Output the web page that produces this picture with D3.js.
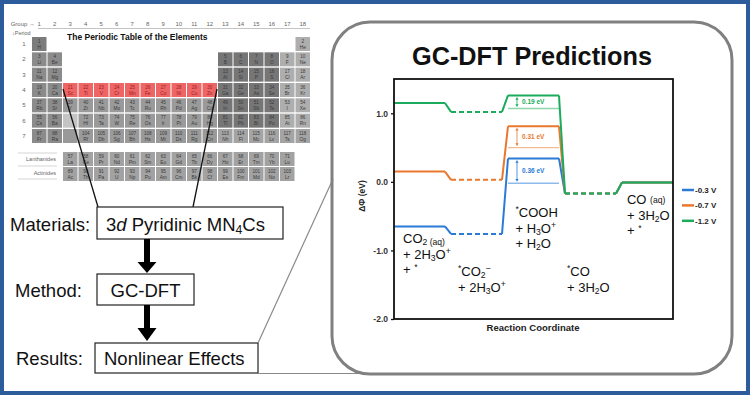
<!DOCTYPE html>
<html>
<head>
<meta charset="utf-8">
<script src="https://cdn.jsdelivr.net/npm/d3@7"></script>
<style>
body { margin: 0; background: #fff; }
svg { display: block; font-family: "Liberation Sans", Arial, sans-serif; }
text { white-space: pre; }
</style>
</head>
<body>
<div id="chart"></div>
<script>
// ---- data ----
const elements = ("H He Li Be B C N O F Ne Na Mg Al Si P S Cl Ar K Ca Sc Ti V Cr Mn Fe Co Ni Cu Zn " +
  "Ga Ge As Se Br Kr Rb Sr Y Zr Nb Mo Tc Ru Rh Pd Ag Cd In Sn Sb Te I Xe Cs Ba La Ce Pr Nd Pm Sm " +
  "Eu Gd Tb Dy Ho Er Tm Yb Lu Hf Ta W Re Os Ir Pt Au Hg Tl Pb Bi Po At Rn Fr Ra Ac Th Pa U Np Pu " +
  "Am Cm Bk Cf Es Fm Md No Lr Rf Db Sg Bh Hs Mt Ds Rg Cn Nh Fl Mc Lv Ts Og").split(" ");
const highlighted = d3.range(21, 31);          // 3d metals Sc..Zn
const groupNums = d3.range(1, 19);
const periodNums = d3.range(1, 8);

const potentials = ["-0.3 V", "-0.7 V", "-1.2 V"];
const dphiM03 = [-0.65, -0.76, 0.34, -0.17, -0.01];
const dphiM07 = [0.15, 0.03, 0.81, -0.17, -0.01];
const dphiM12 = [1.15, 1.02, 1.26, -0.17, -0.01];
const coohRef = [-0.02, 0.50, 1.07];          // lower mark of the COOH gap
const gapLabels = ["0.36 eV", "0.31 eV", "0.19 eV"];
const dashedStates = [1, 3];
const yTicks = [1.0, 0.0, -1.0, -2.0];

const colors = ["#2a7bd5", "#e9782f", "#1bab5c"];
const lightColors = ["#8dbbec", "#f5bb90", "#8ed6ac"];

const W = 750, H = 395;
const svg = d3.select("#chart").append("svg")
  .attr("width", W).attr("height", H);

// outer blue frame
svg.append("rect")
  .attr("x", 2).attr("y", 2).attr("width", W - 4).attr("height", H - 4)
  .attr("fill", "#fff").attr("stroke", "#2d5c9c").attr("stroke-width", 4);

// helper for text with sub/sup/italic parts
function rich(sel, x, y, parts, size, weight) {
  const t = sel.append("text").attr("x", x).attr("y", y)
    .attr("font-size", size).attr("font-weight", weight || "normal").attr("fill", "#111");
  let shift = 0;
  parts.forEach(p => {
    const kind = typeof p === "string" ? "n" : p[0];
    const str = typeof p === "string" ? p : p[1];
    let target = 0;
    if (kind === "sub") target = size * 0.15;
    if (kind === "sup") target = -size * 0.35;
    if (kind === "sm") target = -size * 0.1;
    const ts = t.append("tspan").text(str).attr("dy", target - shift);
    if (kind === "sub" || kind === "sup" || kind === "sm") ts.attr("font-size", size * 0.66);
    if (kind === "it") ts.attr("font-style", "italic");
    shift = target;
  });
  return t;
}

// ---- periodic table ----
function placeOf(z) {
  if (z === 1) return [1, 1];
  if (z === 2) return [1, 18];
  if (z <= 4) return [2, z - 2];
  if (z <= 10) return [2, z + 8];
  if (z <= 12) return [3, z - 10];
  if (z <= 18) return [3, z];
  if (z <= 36) return [4, z - 18];
  if (z <= 54) return [5, z - 36];
  if (z <= 56) return [6, z - 54];
  if (z <= 71) return [8, z - 54];
  if (z <= 86) return [6, z - 68];
  if (z <= 88) return [7, z - 86];
  if (z <= 103) return [9, z - 86];
  return [7, z - 100];
}
const cells = elements.map((sym, i) => {
  const p = placeOf(i + 1);
  return { z: i + 1, sym: sym, row: p[0], col: p[1] };
});

const cx = d3.scaleLinear().domain([1, 18]).range([32, 32 + 17 * 15.5]);
const ry = d3.scaleLinear().domain([1, 7]).range([37, 129]);
const cw = 14.5, ch = 14;
const rowTop = r => r <= 7 ? ry(r) : (r === 8 ? 152 : 167);

function cellFill(d) {
  if (highlighted.includes(d.z)) return "#ee6565";
  if (d.row >= 8) return "#a2a2a2";
  if (d.z === 1) return "#7c7c7c";
  if (d.col <= 2) return "#8b8b8b";
  if (d.col <= 12) return "#9a9a9a";
  if (d.row === 7) return "#a4a4a4";
  if (d.col >= 17) return "#aeaeae";
  return "#767676";
}

const pt = svg.append("g");

// header
pt.append("text").attr("x", 35).attr("y", 26).attr("text-anchor", "end")
  .attr("font-size", 6).attr("fill", "#666").text("Group \u2192");
pt.selectAll(".gnum").data(groupNums).join("text")
  .attr("class", "gnum")
  .attr("x", d => cx(d) + cw / 2).attr("y", 26)
  .attr("text-anchor", "middle").attr("font-size", 6).attr("fill", "#666")
  .text(d => d);
pt.append("line").attr("x1", 38).attr("x2", 310).attr("y1", 28.5).attr("y2", 28.5)
  .attr("stroke", "#aaa").attr("stroke-width", 0.7);
pt.append("text").attr("x", 12).attr("y", 34.5).attr("font-size", 5.5).attr("fill", "#666")
  .text("\u2193Period");
pt.selectAll(".pnum").data(periodNums).join("text")
  .attr("class", "pnum")
  .attr("x", 24).attr("y", d => ry(d) + ch / 2 + 2)
  .attr("text-anchor", "middle").attr("font-size", 6).attr("fill", "#666")
  .text(d => d);

pt.append("text").attr("x", 67).attr("y", 40)
  .attr("font-size", 8.5).attr("font-weight", "bold").attr("fill", "#111")
  .text("The Periodic Table of the Elements");

// placeholder cells for La / Ac slots
pt.append("rect").attr("x", cx(3)).attr("y", ry(6)).attr("width", cw).attr("height", ch).attr("fill", "#c4c4c4");
pt.append("rect").attr("x", cx(3)).attr("y", ry(7)).attr("width", cw).attr("height", ch).attr("fill", "#999");

const cellG = pt.selectAll(".cell").data(cells).join("g")
  .attr("class", "cell")
  .attr("transform", d => `translate(${cx(d.col)},${rowTop(d.row)})`);
cellG.append("rect")
  .attr("width", cw).attr("height", ch)
  .attr("fill", cellFill);
cellG.append("text")
  .attr("x", cw / 2).attr("y", 5.5).attr("text-anchor", "middle")
  .attr("font-size", 4.6)
  .attr("fill", d => highlighted.includes(d.z) ? "#9a1d1d" : "#3a3a3a")
  .text(d => d.z);
cellG.append("text")
  .attr("x", cw / 2).attr("y", 11.5).attr("text-anchor", "middle")
  .attr("font-size", 4.8)
  .attr("fill", d => highlighted.includes(d.z) ? "#9a1d1d" : "#3a3a3a")
  .text(d => d.sym);

// lanthanide / actinide labels
[["Lanthanides", 161], ["Actinides", 175]].forEach(l => {
  pt.append("text").attr("x", 56).attr("y", l[1]).attr("text-anchor", "end")
    .attr("font-size", 5.5).attr("fill", "#666").text(l[0]);
});
[153, 166, 179].forEach(yy => {
  pt.append("line").attr("x1", 18).attr("x2", 57).attr("y1", yy).attr("y2", yy)
    .attr("stroke", "#bbb").attr("stroke-width", 0.6);
});

// ---- flow chart ----
const flow = svg.append("g");
// zoom lines from periodic table to materials box
flow.append("line").attr("x1", 63).attr("y1", 89).attr("x2", 98).attr("y2", 207)
  .attr("stroke", "#111").attr("stroke-width", 1.3);
flow.append("line").attr("x1", 217).attr("y1", 89).attr("x2", 193).attr("y2", 207)
  .attr("stroke", "#111").attr("stroke-width", 1.3);

const boxes = [
  { x: 97, y: 207, w: 186, h: 32 },
  { x: 97, y: 274, w: 97, h: 31 },
  { x: 95, y: 343, w: 163, h: 30 }
];
flow.selectAll(".box").data(boxes).join("rect")
  .attr("class", "box")
  .attr("x", d => d.x).attr("y", d => d.y).attr("width", d => d.w).attr("height", d => d.h)
  .attr("fill", "#fff").attr("stroke", "#222").attr("stroke-width", 1.2);

const fs = 18.5;
rich(flow, 10, 231, ["Materials:"], fs);
rich(flow, 106, 231, ["3", ["it", "d"], " Pyridinic MN", ["sub", "4"], "Cs"], fs);
rich(flow, 15, 297, ["Method:"], fs);
flow.append("text").attr("x", 145.5).attr("y", 297).attr("text-anchor", "middle")
  .attr("font-size", fs).attr("fill", "#111").text("GC-DFT");
rich(flow, 16, 365, ["Results:"], fs);
rich(flow, 104, 365, ["Nonlinear Effects"], fs);

// down arrows
[[239, 262, 273], [305, 328, 341]].forEach(a => {
  flow.append("rect").attr("x", 144).attr("y", a[0]).attr("width", 6).attr("height", a[1] - a[0] + 1)
    .attr("fill", "#000");
  flow.append("path").attr("d", `M137.5,${a[1]} L156.5,${a[1]} L147,${a[2]} Z`).attr("fill", "#000");
});

// gray connector lines to the chart panel
flow.append("line").attr("x1", 258).attr("y1", 343).attr("x2", 333).attr("y2", 179)
  .attr("stroke", "#8a8a8a").attr("stroke-width", 1.2);
flow.append("line").attr("x1", 258).attr("y1", 373.5).attr("x2", 372).attr("y2", 373.5)
  .attr("stroke", "#8a8a8a").attr("stroke-width", 1.2);

// ---- chart panel ----
svg.append("rect")
  .attr("x", 332).attr("y", 22).attr("width", 400).attr("height", 352).attr("rx", 38)
  .attr("fill", "none").attr("stroke", "#808080").attr("stroke-width", 3);

svg.append("text").attr("x", 532).attr("y", 65).attr("text-anchor", "middle")
  .attr("font-size", 26.5).attr("font-weight", "bold").attr("fill", "#111")
  .attr("textLength", 240).attr("lengthAdjust", "spacingAndGlyphs")
  .text("GC-DFT Predictions");

const plot = { left: 394, right: 673, top: 79, bottom: 319 };
const FLAT = 0.895;   // flat part of each state in reaction-coordinate units
const x = d3.scaleLinear().domain([0, 4 + FLAT]).range([plot.left, plot.right]);
const y = d3.scaleLinear().domain([-2, 1.5]).range([plot.bottom, plot.top]);

const yAxis = svg.append("g")
  .attr("transform", `translate(${plot.left},0)`)
  .call(d3.axisLeft(y).tickValues(yTicks).tickSize(3).tickFormat(d => d.toFixed(1)));
yAxis.select(".domain").remove();
yAxis.selectAll("line").attr("stroke", "#111").attr("stroke-width", 1.3);
yAxis.selectAll("text").attr("font-size", 8.5).attr("font-weight", "bold")
  .attr("fill", "#333").attr("font-family", "'Liberation Sans', Arial, sans-serif");

svg.append("text")
  .attr("transform", `translate(365,196) rotate(-90)`)
  .attr("text-anchor", "middle").attr("font-size", 8.5).attr("font-weight", "bold").attr("fill", "#222")
  .text("\u0394\u03a6 (eV)");
svg.append("text").attr("x", 533).attr("y", 331).attr("text-anchor", "middle")
  .attr("font-size", 9.5).attr("font-weight", "bold").attr("fill", "#222")
  .text("Reaction Coordinate");

// energy profiles
const series = [dphiM03, dphiM07, dphiM12];
const lines = svg.append("g").attr("fill", "none").attr("stroke-width", 2);
series.forEach((vals, k) => {
  const g = lines.append("g").attr("stroke", colors[k]);
  // thin reference of the COOH gap
  g.append("line")
    .attr("x1", x(2)).attr("x2", x(2 + FLAT))
    .attr("y1", y(coohRef[k])).attr("y2", y(coohRef[k]))
    .attr("stroke", lightColors[k]).attr("stroke-width", 1.3);
  vals.forEach((v, i) => {
    g.append("line")
      .attr("x1", x(i)).attr("x2", x(i + FLAT))
      .attr("y1", y(v)).attr("y2", y(v))
      .attr("stroke-dasharray", dashedStates.includes(i) ? "5,3" : null);
    if (i < vals.length - 1) {
      g.append("line")
        .attr("x1", x(i + FLAT)).attr("x2", x(i + 1))
        .attr("y1", y(v)).attr("y2", y(vals[i + 1]));
    }
  });
  // double-headed gap arrow and label
  const ax = x(2) + 9, y1 = y(vals[2]) + 1.5, y2 = y(coohRef[k]) - 1.5;
  g.append("line").attr("x1", ax).attr("x2", ax).attr("y1", y1 + 2).attr("y2", y2 - 2)
    .attr("stroke-width", 0.8);
  g.append("path").attr("d", `M${ax - 1.6},${y1 + 2.8} L${ax + 1.6},${y1 + 2.8} L${ax},${y1} Z`)
    .attr("fill", colors[k]).attr("stroke", "none");
  g.append("path").attr("d", `M${ax - 1.6},${y2 - 2.8} L${ax + 1.6},${y2 - 2.8} L${ax},${y2} Z`)
    .attr("fill", colors[k]).attr("stroke", "none");
  svg.append("text").attr("x", ax + 5).attr("y", (y(vals[2]) + y(coohRef[k])) / 2 + 2.3)
    .attr("font-size", 6.5).attr("font-weight", "bold").attr("fill", colors[k])
    .text(gapLabels[k]);
});

// plot frame
svg.append("rect")
  .attr("x", plot.left).attr("y", plot.top)
  .attr("width", plot.right - plot.left).attr("height", plot.bottom - plot.top)
  .attr("fill", "none").attr("stroke", "#111").attr("stroke-width", 1.8);

// legend
const leg = svg.append("g");
potentials.forEach((p, k) => {
  const ly = 190 + k * 15.4;
  leg.append("line").attr("x1", 682).attr("x2", 694).attr("y1", ly).attr("y2", ly)
    .attr("stroke", colors[k]).attr("stroke-width", 2.5);
  leg.append("text").attr("x", 695).attr("y", ly + 3)
    .attr("font-size", 8).attr("font-weight", "bold").attr("fill", "#222").text(p);
});

// state labels
const ls = 13, lh = 15.7;
const stateLabels = [
  [["CO", ["sub", "2 (aq)"]], ["+ 2H", ["sub", "3"], "O", ["sup", "+"]], ["+ ", ["sup", "*"]]],
  [[["sup", "*"], "CO", ["sub", "2"], ["sup", "\u2212"]], ["+ 2H", ["sub", "3"], "O", ["sup", "+"]]],
  [[["sup", "*"], "COOH"], ["+ H", ["sub", "3"], "O", ["sup", "+"]], ["+ H", ["sub", "2"], "O"]],
  [[["sup", "*"], "CO"], ["+ 3H", ["sub", "2"], "O"]],
  [["CO ", ["sm", "(aq)"]], ["+ 3H", ["sub", "2"], "O"], ["+ ", ["sup", "*"]]]
];
const labelAnchor = [[9, 243], [7, 276], [7.5, 217], [2, 276], [5, 204]];
stateLabels.forEach((rows, i) => {
  rows.forEach((parts, j) => {
    rich(svg, x(i) + labelAnchor[i][0], labelAnchor[i][1] + j * lh, parts, ls);
  });
});
</script>
</body>
</html>
